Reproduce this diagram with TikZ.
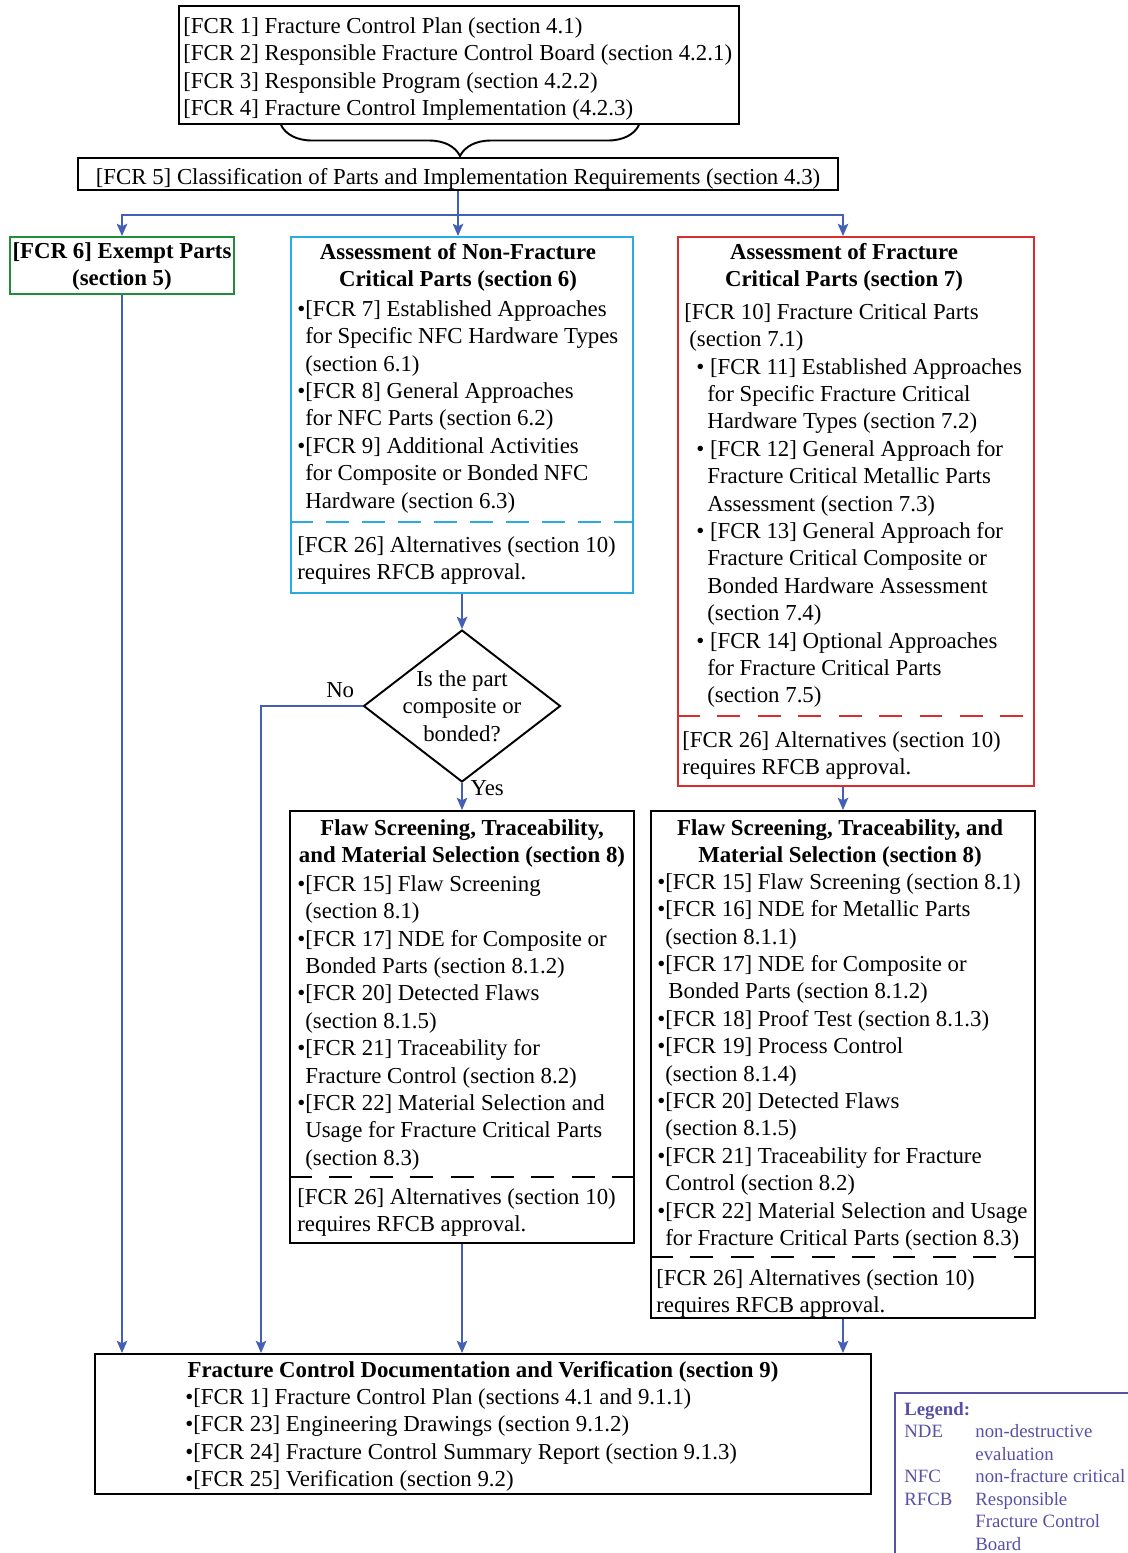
\documentclass[tikz,border=0pt]{standalone}
\usepackage{fontspec}
\setmainfont{Liberation Serif}
\usepackage{tikz}
\usetikzlibrary{arrows.meta, positioning, shapes.geometric, fit, calc, decorations.pathreplacing}
\definecolor{linkblue}{RGB}{68,96,182}
\definecolor{nfccyan}{RGB}{41,170,225}
\definecolor{fcred}{RGB}{222,44,44}
\definecolor{exgreen}{RGB}{34,139,60}
\definecolor{legendblue}{RGB}{88,80,165}
\tikzset{
    box/.style={ % Outline of every block
        draw,
        line width=1.1pt,
        inner sep=0pt
    },
    body/.style={font=\fontsize{13}{15.6}\selectfont, align=left, inner sep=0pt, anchor=north west},
    head/.style={font=\fontsize{13}{15.6}\selectfont\bfseries, align=center, inner sep=0pt, anchor=north},
    divider/.style={line width=1.1pt, dash pattern=on 13pt off 10pt},
    link/.style={ % Blue flow lines
        draw=linkblue,
        line width=1.1pt,
        -{Stealth[length=7pt, width=6pt, inset=1.5pt]}
    },
    curly/.style={decorate, decoration={brace, mirror, amplitude=0.62cm}, line width=1.1pt}
}
\begin{document}
\begin{tikzpicture}[x=0.02cm, y=-0.02cm]
    \useasboundingbox (0,0) rectangle (1127,1553);

    % requirements on top
    \node[box, fit={(179,6) (739,124)}] (plan) {};
    \node[body] (plantxt) at (183,17) {[FCR 1] Fracture Control Plan (section 4.1)\\{}[FCR 2] Responsible Fracture Control Board (section 4.2.1)\\{}[FCR 3] Responsible Program (section 4.2.2)\\{}[FCR 4] Fracture Control Implementation (4.2.3)};
    \draw[curly] (281,125) -- (639,125);

    \node[box, fit={(78,158) (838,190)}] (classify) {};
    \node[body, anchor=center] (classifytxt) at ([yshift=-3]classify.center) {[FCR 5] Classification of Parts and Implementation Requirements (section 4.3)};

    % three kinds of parts
    \node[box, draw=exgreen, fit={(10,237) (234,294)}] (exempt) {};
    \node[head] (exempttxt) at (122,242) {[FCR 6] Exempt Parts\\(section 5)};

    \node[box, draw=nfccyan, fit={(291,237) (633,593)}] (nfc) {};
    \node[head] (nfchead) at (458,243) {Assessment of Non-Fracture\\Critical Parts (section 6)};
    \node[body] (nfctxt) at (297,300) {•[FCR 7] Established Approaches\\\phantom{•}for Specific NFC Hardware Types\\\phantom{•}(section 6.1)\\•[FCR 8] General Approaches\\\phantom{•}for NFC Parts (section 6.2)\\•[FCR 9] Additional Activities\\\phantom{•}for Composite or Bonded NFC\\\phantom{•}Hardware (section 6.3)};
    \draw[divider, draw=nfccyan, dash pattern=on 13pt off 7.5pt] (nfc.west |- 0,522) -- (nfc.east |- 0,522);
    \node[body] (nfcalt) at (297,536) {[FCR 26] Alternatives (section 10)\\requires RFCB approval.};

    \node[box, draw=fcred, fit={(678,237) (1034,786)}] (fc) {};
    \node[head] (fchead) at (844,243) {Assessment of Fracture\\Critical Parts (section 7)};
    \node[body] (fctxt) at (684,303) {[FCR 10] Fracture Critical Parts\\
        \hspace*{0.1cm}(section 7.1)\\
        \hspace*{0.24cm}• [FCR 11] Established Approaches\\
        \hspace*{0.46cm}for Specific Fracture Critical\\
        \hspace*{0.46cm}Hardware Types (section 7.2)\\
        \hspace*{0.24cm}• [FCR 12] General Approach for\\
        \hspace*{0.46cm}Fracture Critical Metallic Parts\\
        \hspace*{0.46cm}Assessment (section 7.3)\\
        \hspace*{0.24cm}• [FCR 13] General Approach for\\
        \hspace*{0.46cm}Fracture Critical Composite or\\
        \hspace*{0.46cm}Bonded Hardware Assessment\\
        \hspace*{0.46cm}(section 7.4)\\
        \hspace*{0.24cm}• [FCR 14] Optional Approaches\\
        \hspace*{0.46cm}for Fracture Critical Parts\\
        \hspace*{0.46cm}(section 7.5)};
    \draw[divider, draw=fcred] (fc.west |- 0,716) -- (fc.east |- 0,716);
    \node[body] (fcalt) at (682,731) {[FCR 26] Alternatives (section 10)\\requires RFCB approval.};

    % decision
    \node[draw, diamond, line width=1.1pt, inner sep=0pt, minimum width=3.94cm, minimum height=3.04cm] (ask) at (462,706) {};
    \node[font=\fontsize{13}{15.6}\selectfont, align=center, inner sep=0pt] (asktxt) at (ask.center) {Is the part\\composite or\\bonded?};

    % flaw screening
    \node[box, fit={(290,811) (634,1243)}] (lflaw) {};
    \node[head] (lflawhead) at (462,819) {Flaw Screening, Traceability,\\and Material Selection (section 8)};
    \node[body] (lflawtxt) at (297,875) {•[FCR 15] Flaw Screening\\\phantom{•}(section 8.1)\\•[FCR 17] NDE for Composite or\\\phantom{•}Bonded Parts (section 8.1.2)\\•[FCR 20] Detected Flaws\\\phantom{•}(section 8.1.5)\\•[FCR 21] Traceability for\\\phantom{•}Fracture Control (section 8.2)\\•[FCR 22] Material Selection and\\\phantom{•}Usage for Fracture Critical Parts\\\phantom{•}(section 8.3)};
    \draw[divider] (lflaw.west |- 0,1177) -- (lflaw.east |- 0,1177);
    \node[body] (lflawalt) at (297,1188) {[FCR 26] Alternatives (section 10)\\requires RFCB approval.};

    \node[box, fit={(651,811) (1035,1318)}] (rflaw) {};
    \node[head] (rflawhead) at (840,819) {Flaw Screening, Traceability, and\\Material Selection (section 8)};
    \node[body] (rflawtxt) at (657,873) {•[FCR 15] Flaw Screening (section 8.1)\\
        •[FCR 16] NDE for Metallic Parts\\
        \phantom{•}(section 8.1.1)\\
        •[FCR 17] NDE for Composite or\\
        \hspace*{0.22cm}Bonded Parts (section 8.1.2)\\
        •[FCR 18] Proof Test (section 8.1.3)\\
        •[FCR 19] Process Control\\
        \phantom{•}(section 8.1.4)\\
        •[FCR 20] Detected Flaws\\
        \phantom{•}(section 8.1.5)\\
        •[FCR 21] Traceability for Fracture\\
        \phantom{•}Control (section 8.2)\\
        •[FCR 22] Material Selection and Usage\\
        \phantom{•}for Fracture Critical Parts (section 8.3)};
    \draw[divider] (rflaw.west |- 0,1257) -- (rflaw.east |- 0,1257);
    \node[body] (rflawalt) at (656,1269) {[FCR 26] Alternatives (section 10)\\requires RFCB approval.};

    % documentation
    \node[box, fit={(95,1354) (871,1494)}] (docs) {};
    \node[head] (docshead) at (483,1361) {Fracture Control Documentation and Verification (section 9)};
    \node[body] (docstxt) at (185,1388) {•[FCR 1] Fracture Control Plan (sections 4.1 and 9.1.1)\\•[FCR 23] Engineering Drawings (section 9.1.2)\\•[FCR 24] Fracture Control Summary Report (section 9.1.3)\\•[FCR 25] Verification (section 9.2)};

    % legend, cut by the page edge
    \node[box, draw=legendblue, fit={(895,1393) (1160,1600)}] (legend) {};
    \node[anchor=north west, inner sep=0pt, text=legendblue, font=\fontsize{10.7}{12.8}\selectfont] (legendtxt) at (904,1399) {\begin{tabular}{@{}l@{\hspace{0.46cm}}l@{}}
        \multicolumn{2}{@{}l}{\textbf{Legend:}}\\
        NDE & non-destructive\\
            & evaluation\\
        NFC & non-fracture critical\\
        RFCB & Responsible\\
            & Fracture Control\\
            & Board
    \end{tabular}};

    % flow
    \coordinate (split) at (classify.south |- 0,215);
    \coordinate (nobend) at (261,706);
    \draw[link] (classify.south) -- (classify.south |- nfc.north);
    \draw[link] (split) -| (exempt.north);
    \draw[link] (split) -| (fc.north -| rflaw.north);
    \draw[link] (nfc.south) -- (nfc.south |- ask.north);
    \draw[link] (ask.west) -- node[pos=0.22, above=1pt, font=\fontsize{13}{15.6}\selectfont] {No} (nobend) -- (nobend |- docs.north);
    \draw[link] (ask.south) -- node[pos=0.18, right=1pt, font=\fontsize{13}{15.6}\selectfont] {Yes} (ask.south |- lflaw.north);
    \draw[link] (fc.south -| rflaw.north) -- (rflaw.north);
    \draw[link] (exempt.south) -- (exempt.south |- docs.north);
    \draw[link] (lflaw.south) -- (lflaw.south |- docs.north);
    \draw[link] (rflaw.south) -- (rflaw.south |- docs.north);
\end{tikzpicture}
\end{document}
